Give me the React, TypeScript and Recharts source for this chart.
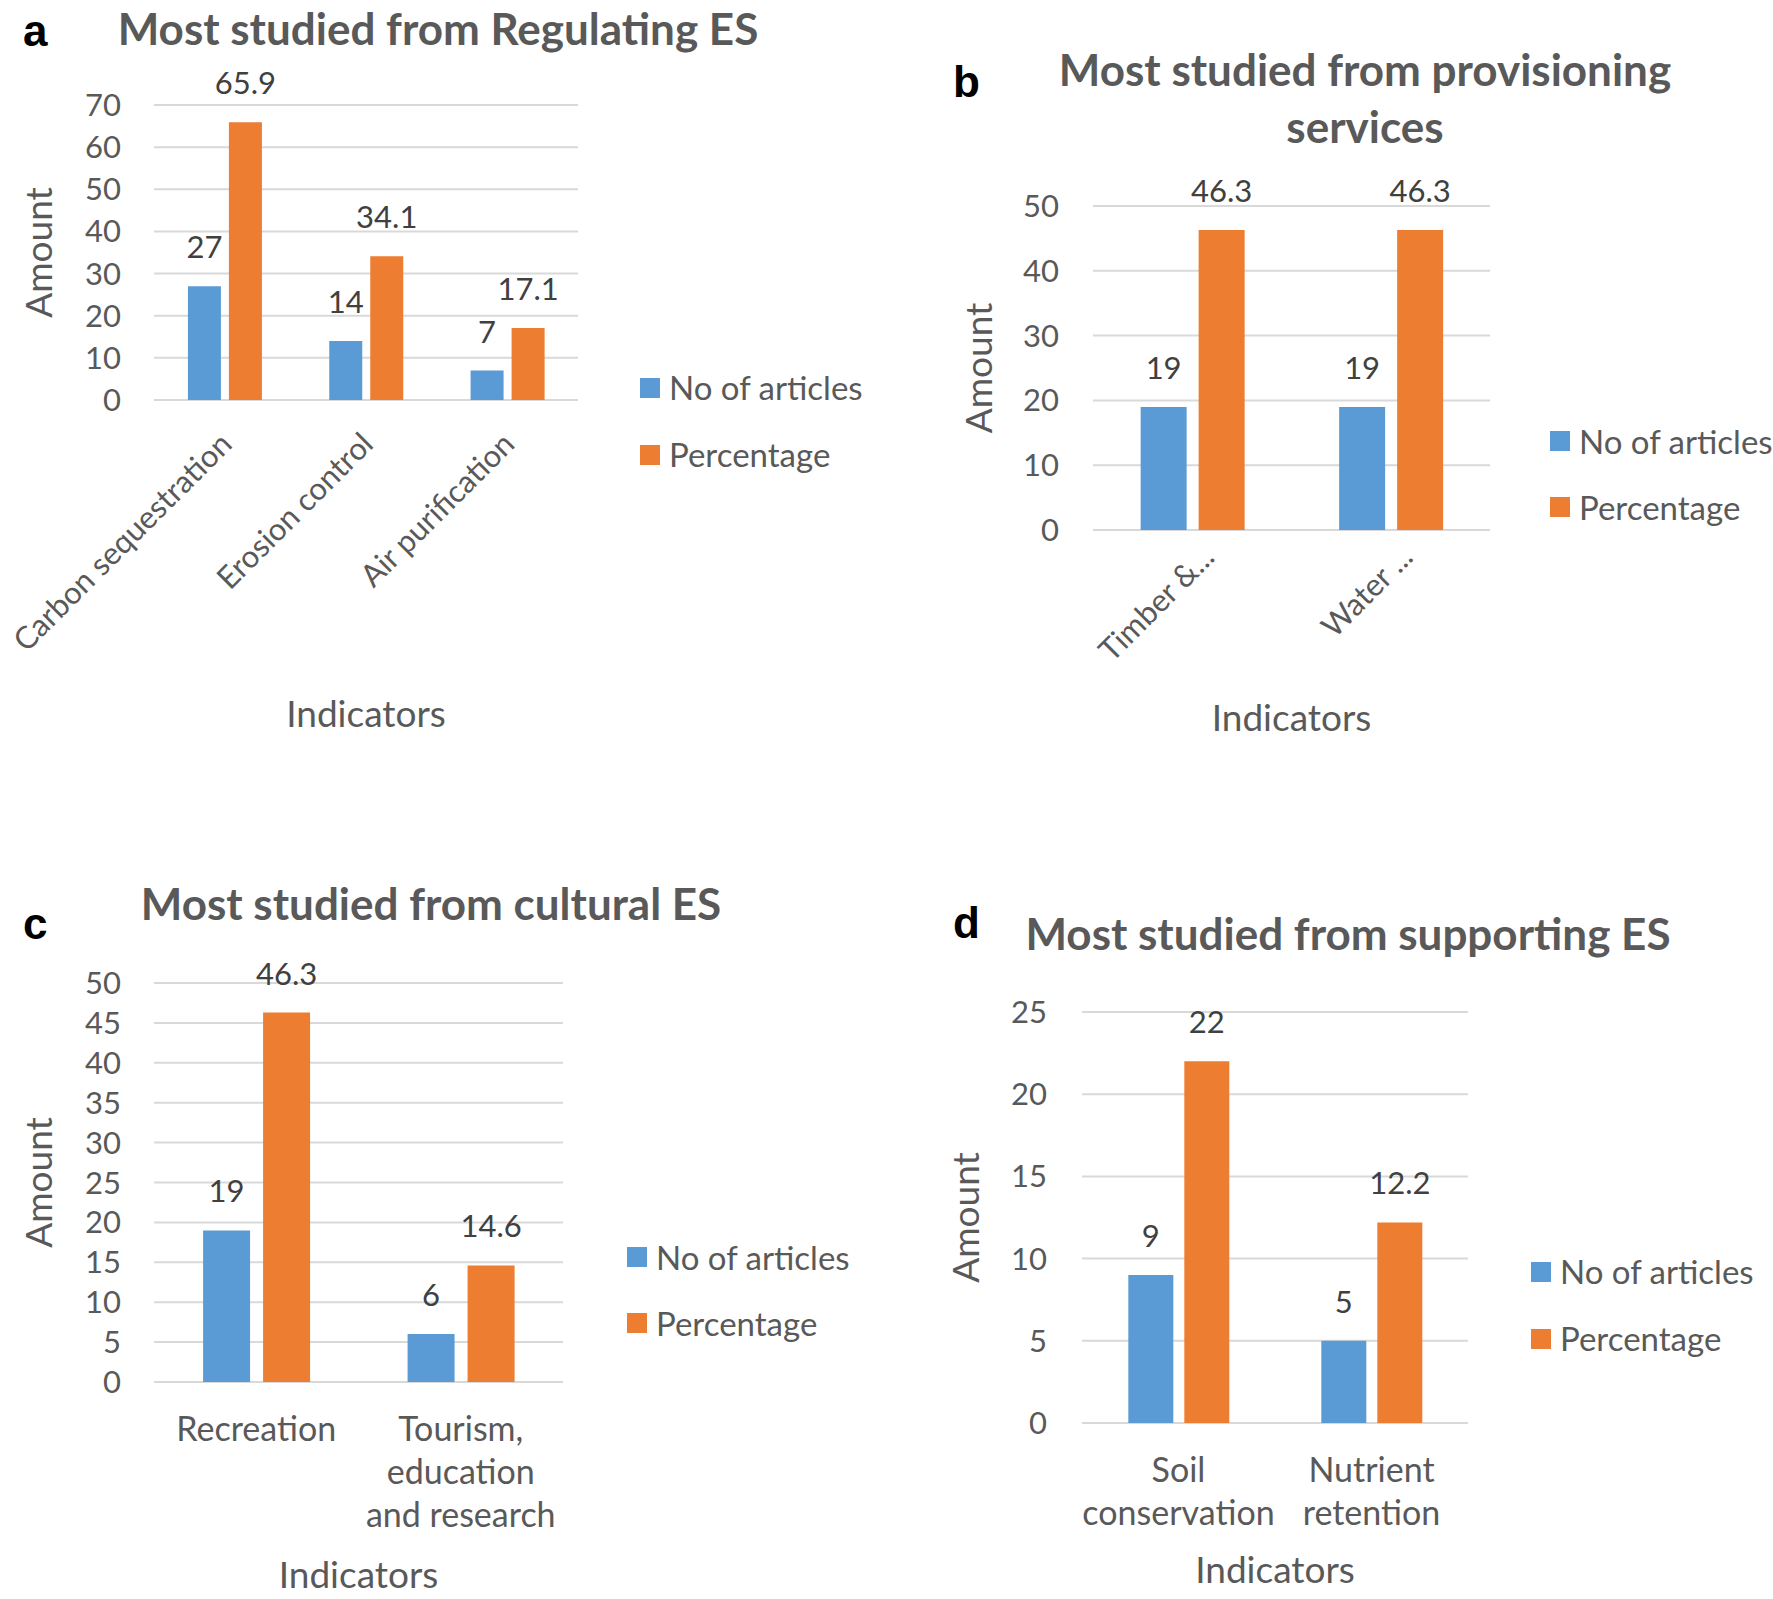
import React from "react";
import { BarChart, Bar, XAxis, YAxis, CartesianGrid, Legend, LabelList } from "recharts";

// a: regulating
const regulatingNames = ["Carbon sequestration", "Erosion control", "Air purification"];
const regulatingArticles = [27, 14, 7];
const regulatingPercent = [65.9, 34.1, 17.1];
const regulatingTicks = [0, 10, 20, 30, 40, 50, 60, 70];

// b: provisioning
const provisioningNames = ["Timber &...", "Water ..."];
const provisioningArticles = [19, 19];
const provisioningPercent = [46.3, 46.3];
const provisioningTicks = [0, 10, 20, 30, 40, 50];

// c: cultural
const culturalNames = ["Recreation", "Tourism,\neducation\nand research"];
const culturalArticles = [19, 6];
const culturalPercent = [46.3, 14.6];
const culturalTicks = [0, 5, 10, 15, 20, 25, 30, 35, 40, 45, 50];

// d: supporting
const supportingNames = ["Soil\nconservation", "Nutrient\nretention"];
const supportingArticles = [9, 5];
const supportingPercent = [22, 12.2];
const supportingTicks = [0, 5, 10, 15, 20, 25];

const BLUE = "#5B9BD5";
const ORANGE = "#ED7D31";
const GRID = "#D9D9D9";
const TEXT = "#595959";
const FONT = "Lato, 'Open Sans', sans-serif";

type Row = { name: string; articles: number; percent: number };

const toRows = (names: string[], articles: number[], percent: number[]): Row[] =>
  names.map((name, i) => ({ name, articles: articles[i], percent: percent[i] }));

function SlantTick(props: any) {
  const { x, y, payload, offX, offY } = props;
  const tx = x + offX;
  const ty = y + offY;
  return (
    <text
      x={tx}
      y={ty}
      transform={`rotate(-45 ${tx} ${ty})`}
      textAnchor="end"
      fontSize={31}
      fill={TEXT}
      fontFamily={FONT}
    >
      {payload.value}
    </text>
  );
}

function WrapTick(props: any) {
  const { x, y, payload } = props;
  const lines = String(payload.value).split("\n");
  return (
    <text x={x} y={y + 59} textAnchor="middle" fontSize={34} fill={TEXT} fontFamily={FONT}>
      {lines.map((l, i) => (
        <tspan key={i} x={x} dy={i === 0 ? 0 : 43}>
          {l}
        </tspan>
      ))}
    </text>
  );
}

function AxisTitle(props: any) {
  const { px, py, vertical, text } = props;
  return (
    <text
      x={px}
      y={py}
      transform={vertical ? `rotate(-90 ${px} ${py})` : undefined}
      textAnchor="middle"
      fontSize={37}
      fill={TEXT}
      fontFamily={FONT}
    >
      {text}
    </text>
  );
}

function LegendBox({ payload, spacing }: any) {
  return (
    <div style={{ fontFamily: FONT, fontSize: 33, color: TEXT }}>
      {(payload ?? []).map((p: any) => (
        <div key={p.value} style={{ display: "flex", alignItems: "center", height: spacing }}>
          <span style={{ width: 20, height: 20, background: p.color, marginRight: 9, flex: "none" }} />
          <span style={{ lineHeight: 1, whiteSpace: "nowrap" }}>{p.value}</span>
        </div>
      ))}
    </div>
  );
}

type PanelProps = {
  left: number;
  top: number;
  width: number;
  height: number;
  x0: number;
  x1: number;
  y0: number;
  y1: number;
  rows: Row[];
  ticks: number[];
  barGap: number;
  tickGap: number;
  tick: any;
  legendLeft: number;
  legendTop: number;
  legendSpacing: number;
  yTitleX: number;
  xTitleY: number;
};

function Panel(p: PanelProps) {
  const xAxisHeight = p.height - p.y1 - 10;
  const max = p.ticks[p.ticks.length - 1];
  return (
    <div style={{ position: "absolute", left: p.left, top: p.top, width: p.width, height: p.height }}>
      <BarChart
        width={p.width}
        height={p.height}
        data={p.rows}
        margin={{ top: p.y0, right: p.width - p.x1, bottom: 10, left: 0 }}
        barCategoryGap="24%"
        barGap={p.barGap}
      >
        <CartesianGrid vertical={false} stroke={GRID} strokeWidth={2} />
        <XAxis
          dataKey="name"
          height={xAxisHeight}
          interval={0}
          tickLine={false}
          axisLine={false}
          tickSize={0}
          tickMargin={0}
          tick={p.tick}
          label={<AxisTitle px={(p.x0 + p.x1) / 2} py={p.xTitleY} text="Indicators" />}
        />
        <YAxis
          width={p.x0}
          domain={[0, max]}
          ticks={p.ticks}
          interval={0}
          tickLine={false}
          axisLine={false}
          tickSize={0}
          tickMargin={p.tickGap}
          tick={{ fontSize: 31, fill: TEXT, fontFamily: FONT }}
          label={<AxisTitle px={p.yTitleX} py={(p.y0 + p.y1) / 2} vertical text="Amount" />}
        />
        <Legend
          layout="vertical"
          align="center"
          verticalAlign="middle"
          wrapperStyle={{ left: p.legendLeft, top: p.legendTop, width: "auto", height: "auto" }}
          content={(lp: any) => <LegendBox payload={lp.payload} spacing={p.legendSpacing} />}
        />
        <Bar dataKey="articles" name="No of articles" fill={BLUE} isAnimationActive={false}>
          <LabelList dataKey="articles" position="top" offset={28} fill="#404040" fontSize={31} fontFamily={FONT} />
        </Bar>
        <Bar dataKey="percent" name="Percentage" fill={ORANGE} isAnimationActive={false}>
          <LabelList dataKey="percent" position="top" offset={28} fill="#404040" fontSize={31} fontFamily={FONT} />
        </Bar>
      </BarChart>
    </div>
  );
}

export default function App() {
  const titleStyle = { fontFamily: FONT, fontWeight: 700, fontSize: 44, fill: TEXT } as const;
  const letterStyle = { fontFamily: "'Liberation Sans', Arial, sans-serif", fontWeight: 700, fontSize: 44, fill: "#000" } as const;
  return (
    <div style={{ position: "absolute", left: 0, top: 0, width: 1773, height: 1599, background: "#fff", fontFamily: FONT }}>
      <Panel
        left={0}
        top={0}
        width={890}
        height={760}
        x0={154}
        x1={578}
        y0={105}
        y1={400}
        rows={toRows(regulatingNames, regulatingArticles, regulatingPercent)}
        ticks={regulatingTicks}
        barGap={8}
        tickGap={33}
        tick={(tp: any) => <SlantTick {...tp} offX={9} offY={46} />}
        legendLeft={640}
        legendTop={354}
        legendSpacing={67}
        yTitleX={52}
        xTitleY={727}
      />
      <Panel
        left={890}
        top={0}
        width={883}
        height={760}
        x0={203}
        x1={600}
        y0={206}
        y1={530}
        rows={toRows(provisioningNames, provisioningArticles, provisioningPercent)}
        ticks={provisioningTicks}
        barGap={12}
        tickGap={34}
        tick={(tp: any) => <SlantTick {...tp} offX={24} offY={29} />}
        legendLeft={660}
        legendTop={408}
        legendSpacing={66}
        yTitleX={102}
        xTitleY={731}
      />
      <Panel
        left={0}
        top={860}
        width={890}
        height={739}
        x0={154}
        x1={563}
        y0={123}
        y1={522}
        rows={toRows(culturalNames, culturalArticles, culturalPercent)}
        ticks={culturalTicks}
        barGap={13}
        tickGap={33}
        tick={(tp: any) => <WrapTick {...tp} />}
        legendLeft={627}
        legendTop={364}
        legendSpacing={66}
        yTitleX={52}
        xTitleY={728}
      />
      <Panel
        left={890}
        top={860}
        width={883}
        height={739}
        x0={192}
        x1={578}
        y0={152}
        y1={563}
        rows={toRows(supportingNames, supportingArticles, supportingPercent)}
        ticks={supportingTicks}
        barGap={11}
        tickGap={35}
        tick={(tp: any) => <WrapTick {...tp} />}
        legendLeft={641}
        legendTop={378}
        legendSpacing={67}
        yTitleX={89}
        xTitleY={723}
      />
      <svg
        width={1773}
        height={1599}
        style={{ position: "absolute", left: 0, top: 0, pointerEvents: "none" }}
      >
        <text x={23} y={46} style={letterStyle}>a</text>
        <text x={953} y={97} style={letterStyle}>b</text>
        <text x={23} y={939} style={letterStyle}>c</text>
        <text x={953} y={938} style={letterStyle}>d</text>
        <text x={438} y={45} textAnchor="middle" style={titleStyle}>Most studied from Regulating ES</text>
        <text x={1365} y={86} textAnchor="middle" style={titleStyle}>Most studied from provisioning</text>
        <text x={1365} y={143} textAnchor="middle" style={titleStyle}>services</text>
        <text x={431} y={920} textAnchor="middle" style={titleStyle}>Most studied from cultural ES</text>
        <text x={1348} y={950} textAnchor="middle" style={titleStyle}>Most studied from supporting ES</text>
      </svg>
    </div>
  );
}
